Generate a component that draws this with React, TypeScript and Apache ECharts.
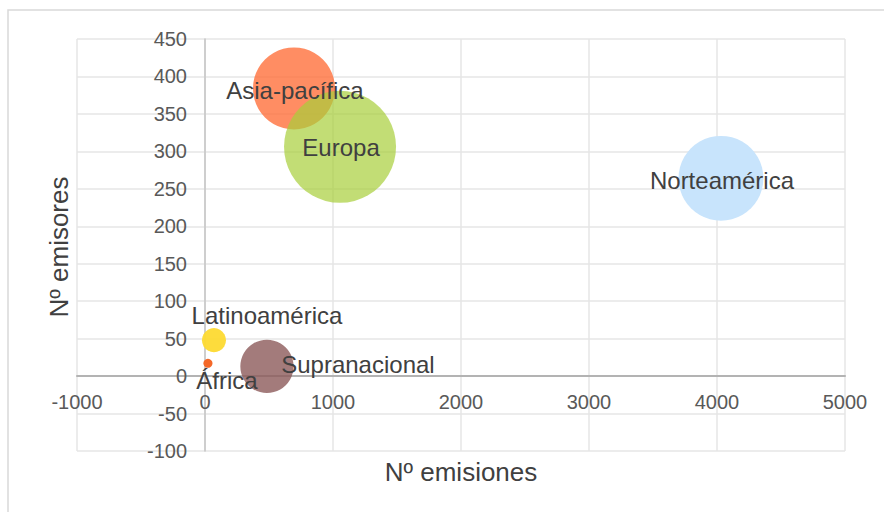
import React, { useEffect, useRef } from "react";
import * as echarts from "echarts";

const regions = ["Asia-pacífica", "Europa", "Norteamérica", "Latinoamérica", "África", "Supranacional"];
const emisiones = [695, 1055, 4031, 70, 23, 484];
const emisores = [384, 306, 264, 48, 17, 13];
const bubbleSize = [53.6, 100, 57.4, 4.6, 0.65, 22.6];
const colors = [
  "rgba(255,112,60,0.8)",
  "rgba(168,206,59,0.7)",
  "rgba(200,228,252,1)",
  "rgba(253,218,50,0.95)",
  "rgba(244,104,40,1)",
  "rgba(140,90,90,0.8)",
];
const labelOffsets = [
  [1, 2],
  [1, 1],
  [1, 2],
  [53, -25],
  [19, 17],
  [91, -2],
];

const FONT = "'Liberation Sans', Arial, sans-serif";

export default function App() {
  const ref = useRef<HTMLDivElement>(null);
  useEffect(() => {
    if (!ref.current) return;
    const chart = echarts.init(ref.current, null, { renderer: "svg" });
    const maxSize = Math.max(...bubbleSize);
    const data = regions.map((name, i) => ({
      name,
      value: [emisiones[i], emisores[i], bubbleSize[i]],
      symbolSize: 112 * Math.sqrt(bubbleSize[i] / maxSize),
      itemStyle: { color: colors[i] },
      label: {
        show: true,
        position: "inside",
        offset: labelOffsets[i],
        formatter: name,
        color: "#404040",
        fontSize: 24,
        fontFamily: FONT,
      },
    }));
    const gridLeft = 77;
    const gridTop = 39;
    const gridW = 845 - 77;
    const gridH = 451 - 39;
    const xMin = -1000, xMax = 5000, yMin = -100, yMax = 450;
    // shift axes so they cross at zero (labels follow the line)
    const xAxisShift = -(gridH * (0 - yMin)) / (yMax - yMin);
    const yAxisShift = -(gridW * (0 - xMin)) / (xMax - xMin);
    chart.setOption({
      animation: false,
      backgroundColor: "#ffffff",
      grid: { left: gridLeft, top: gridTop, right: 884 - 845, bottom: 512 - 451, containLabel: false },
      xAxis: {
        type: "value",
        min: xMin,
        max: xMax,
        interval: 1000,
        offset: xAxisShift,
        axisLine: { show: true, onZero: false, lineStyle: { color: "#b3b3b3", width: 2 } },
        axisTick: { show: false },
        axisLabel: {
          color: "#595959",
          fontSize: 20,
          fontFamily: FONT,
          margin: 16,
          formatter: (v: number) => String(v),
        },
        splitLine: { show: true, lineStyle: { color: "#e6e6e6", width: 1.5 } },
      },
      yAxis: {
        type: "value",
        min: yMin,
        max: yMax,
        interval: 50,
        offset: yAxisShift,
        axisLine: { show: true, onZero: false, lineStyle: { color: "#c4c4c4", width: 1.5 } },
        axisTick: { show: false },
        axisLabel: {
          color: "#595959",
          fontSize: 20,
          fontFamily: FONT,
          margin: 18,
          formatter: (v: number) => String(v),
        },
        splitLine: { show: true, lineStyle: { color: "#e6e6e6", width: 1.5 } },
      },
      graphic: [
        {
          type: "rect",
          shape: { x: 8, y: 10, width: 1000, height: 1000 },
          style: { fill: "none", stroke: "#d9d9d9", lineWidth: 1.5 },
          silent: true,
          z: -10,
        },
        {
          type: "text",
          x: 461,
          y: 472,
          style: {
            text: "Nº emisiones",
            fontSize: 26,
            fontFamily: FONT,
            fill: "#404040",
            align: "center",
            verticalAlign: "middle",
          },
        },
        {
          type: "text",
          x: 59,
          y: 247,
          rotation: Math.PI / 2,
          style: {
            text: "Nº emisores",
            fontSize: 26,
            fontFamily: FONT,
            fill: "#404040",
            align: "center",
            verticalAlign: "middle",
          },
        },
      ],
      series: [
        {
          type: "scatter",
          data,
          itemStyle: { opacity: 1 },
          emphasis: { disabled: true },
        },
      ],
    });
    return () => chart.dispose();
  }, []);
  return (
    <div
      ref={ref}
      style={{ position: "absolute", left: 0, top: 0, width: 884, height: 512 }}
    />
  );
}
